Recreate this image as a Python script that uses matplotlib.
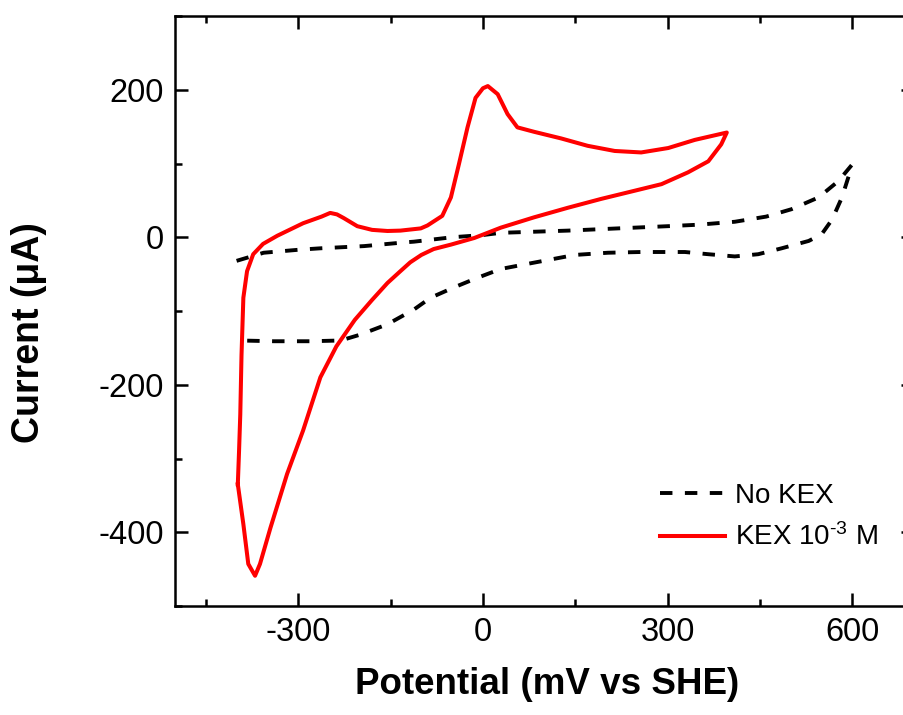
import numpy as np
import matplotlib
matplotlib.use('Agg')
import matplotlib.pyplot as plt
from matplotlib.ticker import MultipleLocator

plt.rcParams['font.family'] = ['Liberation Sans', 'DejaVu Sans']
plt.rcParams['mathtext.fontset'] = 'custom'
plt.rcParams['mathtext.rm'] = 'Liberation Sans'
plt.rcParams['mathtext.default'] = 'regular'
plt.rcParams['axes.unicode_minus'] = False

# Voltametría sin KEX (ida y vuelta)
e_nokex = [-400, -356, -300, -264, -193, -128, -112, -50, 0, 29, 138, 246, 300,
           350, 409, 460, 501, 545, 577, 599,
           594, 583, 567, 550, 529, 485, 447, 409, 366, 328, 290, 257, 203, 149,
           111, 73, 29, -9, -47, -85, -112, -155, -199, -231, -280, -340, -394]
i_nokex = [-32, -21, -17, -15, -12, -7, -6, 0, 3, 6, 9, 13, 15,
           17, 21, 28, 38, 54, 76, 98,
           83, 54, 24, 4, -5, -15, -23, -26, -23, -20, -20, -20, -21, -24,
           -30, -36, -43, -55, -68, -82, -98, -118, -132, -140, -141, -141, -140]

# Voltametría con KEX 1e-3 M
e_kex = [-398, -396, -394, -392, -389, -383, -373, -357, -334, -292, -262, -248,
         -237, -226, -204, -180, -155, -134, -101, -90, -66, -52, -39, -25, -12,
         0, 8, 24, 40, 56, 83, 127, 170, 214, 257, 301, 344, 396,
         387, 366, 333, 290, 246, 192, 138, 83, 29, -14, -52, -80, -100, -118, -134,
         -155, -180, -208, -238, -264, -292, -318, -345, -362, -370, -381, -389, -398]
i_kex = [-335, -290, -240, -160, -82, -46, -23, -9, 2, 19, 28, 33,
         31, 26, 15, 10, 8.5, 9, 12, 16, 29, 54, 99, 149, 189,
         202, 205, 194, 167, 149, 143, 134, 124, 117, 115, 121, 132, 142,
         126, 103, 88, 72, 63, 52, 40, 27, 13, -1, -10, -16, -24, -34, -46,
         -62, -85, -112, -148, -190, -262, -321, -394, -443, -459, -443, -389, -335]

fig = plt.figure(figsize=(9.04, 7.15), dpi=100)
ax = fig.add_axes([175/904, 109/715, 739/904, 590/715])

ax.plot(e_nokex, i_nokex, color='black', lw=2.8, dashes=(3.2, 3.2), label='No KEX')
ax.plot(e_kex, i_kex, color='#ff0000', lw=2.9, label=r'KEX 10$^{\text{-3}}$ M')

ax.set_xlim(-500, 700)
ax.set_ylim(-500, 300)
ax.xaxis.set_major_locator(MultipleLocator(300))
ax.xaxis.set_minor_locator(MultipleLocator(150))
ax.yaxis.set_major_locator(MultipleLocator(200))
ax.yaxis.set_minor_locator(MultipleLocator(100))
ax.tick_params(which='both', direction='in', top=True, right=True, width=1.8,
               labelsize=23.5, pad=8)
ax.tick_params(which='major', length=9.5)
ax.tick_params(which='minor', length=5)
for s in ax.spines.values():
    s.set_linewidth(1.8)

ax.set_xlabel('Potential (mV vs SHE)', fontsize=26.5, fontweight='bold')
ax.set_ylabel('Current (μA)', fontsize=27, fontweight='bold')
ax.xaxis.set_label_coords(0.504, -0.103)
ax.yaxis.set_label_coords(-0.173, 0.464)

ax.legend(loc='upper left', bbox_to_anchor=(660/904, (715-483)/715),
          bbox_transform=fig.transFigure, frameon=False, fontsize=20,
          handlelength=2.34, handletextpad=0.36, labelspacing=0.52,
          borderpad=0, borderaxespad=0)

fig.savefig('out.png', dpi=100)
